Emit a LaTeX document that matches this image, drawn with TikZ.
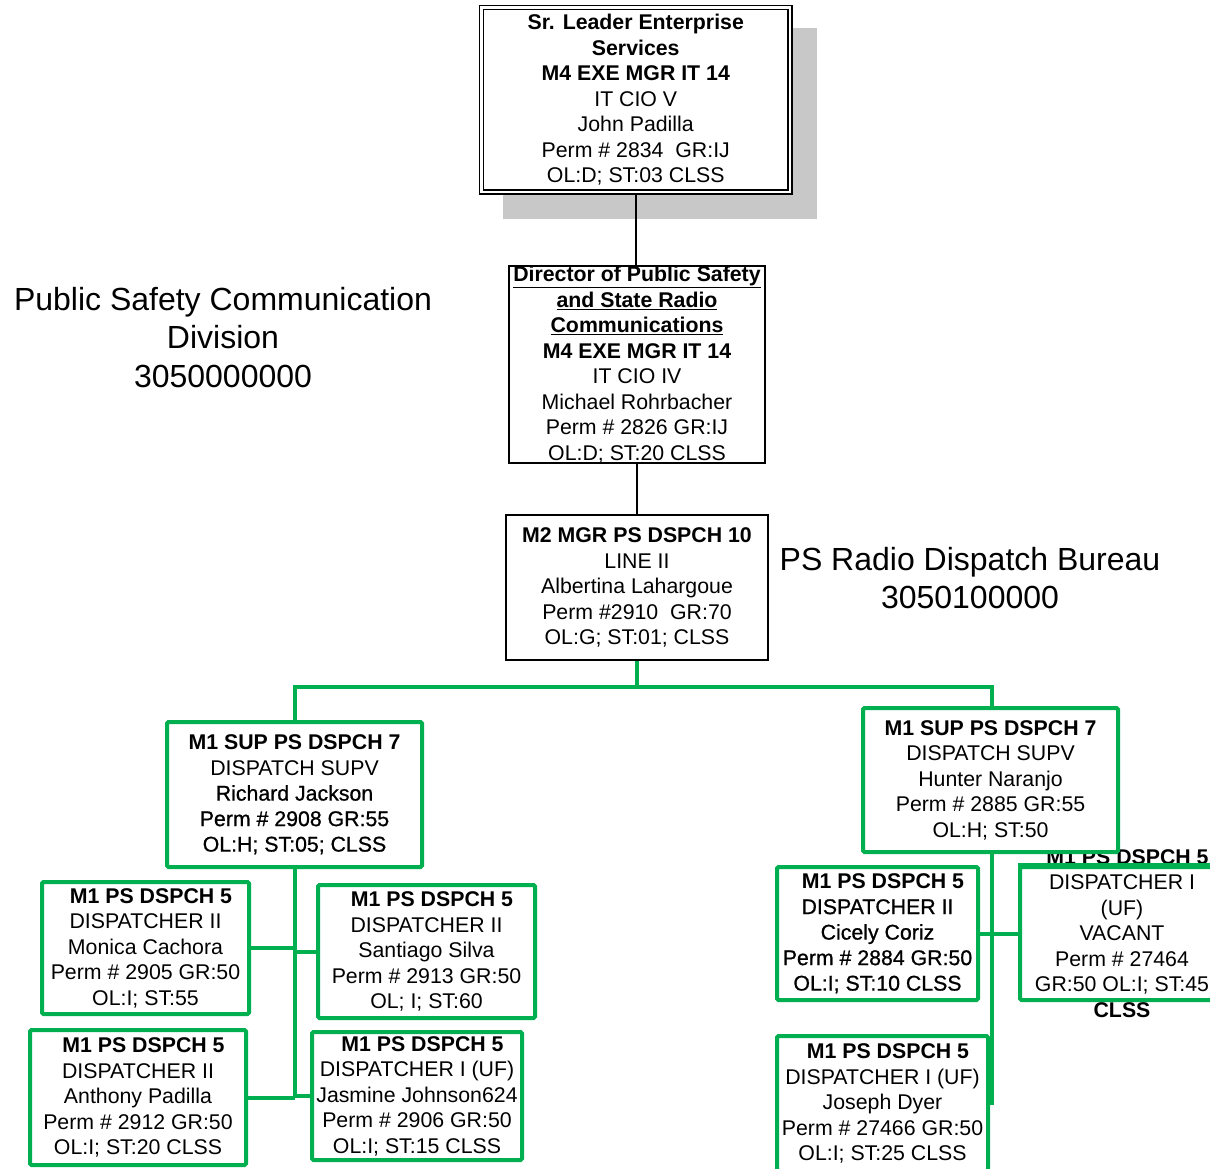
\documentclass[tikz,border=0pt]{standalone}
\usepackage{fontspec}
\setmainfont{Liberation Sans}
\newfontfamily\semib[FakeBold=0.8]{Liberation Sans}
\definecolor{orggreen}{RGB}{0,176,80}
\definecolor{shadowgray}{RGB}{200,200,200}
\begin{document}
\begin{tikzpicture}[x=1pt,y=-1pt,
  boxtext/.style={font=\fontsize{21.3}{25.5}\selectfont, align=center, inner sep=0pt, text=black},
  bbox/.style={boxtext, draw=black, line width=1.8pt, fill=white},
  gbox/.style={boxtext, draw=orggreen, line width=4pt, rounded corners=1.5pt, fill=white},
  gline/.style={draw=orggreen, line width=4pt},
  bline/.style={draw=black, line width=1.8pt},
  titletext/.style={font=\fontsize{32}{38.5}\selectfont, align=center, inner sep=0pt}]
\useasboundingbox (0,0) rectangle (1210,1168);
\clip (0,0) rectangle (1210,1168);
\fill[white] (0,0) rectangle (1210,1168);

% shadow behind the senior leader box
\fill[shadowgray] (503,28) rectangle (817,219);

% senior leader box with a double frame
\node[boxtext, draw=black, fill=white, double, double distance=2.4pt, line width=1.6pt,
      minimum width=308.5pt, minimum height=184.5pt] (sr) at (635.75,99.75)
  {\textbf{Sr. Leader Enterprise}\\\textbf{Services}\\\textbf{M4 EXE MGR IT 14}\\IT CIO V\\John Padilla\\Perm \# 2834\ \ GR:IJ\\OL:D; ST:03 CLSS};

\node[bbox, minimum width=256pt, minimum height=195pt] (dir) at (637,364.5)
  {\textbf{\underline{Director of Public Safety}}\\\textbf{\underline{and State Radio}}\\\textbf{\underline{Communications}}\\\textbf{M4 EXE MGR IT 14}\\IT CIO IV\\Michael Rohrbacher\\Perm \# 2826 GR:IJ\\OL:D; ST:20 CLSS};

\node[bbox, minimum width=262pt, minimum height=145pt] (mgr) at (637,587.5)
  {\textbf{M2 MGR PS DSPCH 10}\\LINE II\\Albertina Lahargoue\\Perm \#2910\ \ GR:70\\OL:G; ST:01; CLSS};

% division and bureau titles
\node[titletext] (division) at (223,337.5) {Public Safety Communication\\Division\\3050000000};
\node[titletext] (bureau) at (970,578) {PS Radio Dispatch Bureau\\3050100000};

% black reporting lines
\draw[bline] (sr.south) -- (sr.south |- dir.north);
\draw[bline] (mgr.north) -- (mgr.north |- dir.south);

% supervisors
\node[gbox, minimum width=255pt, minimum height=145pt] (supL) at (294.5,794.5)
  {\textbf{M1 SUP PS DSPCH 7}\\DISPATCH SUPV\\{\semib Richard Jackson}\\{\semib Perm \# 2908 GR:55}\\{\semib OL:H; ST:05; CLSS}};

% vacant position: its text runs past the frame and is partly covered by the box above
\node[gbox, minimum width=204pt, minimum height=133pt] (vacant) at (1122,933.5) {};
\node[boxtext] (vacanttext) at (vacant.center)
  {\hspace*{11pt}\textbf{M1 PS DSPCH 5}\\DISPATCHER I\\(UF)\\VACANT\\Perm \# 27464\\GR:50 OL:I; ST:45\\\textbf{CLSS}};
\draw[gline] (vacant.north west) -- (vacant.north east);

\node[gbox, minimum width=255pt, minimum height=144pt] (supR) at (990.5,780)
  {\textbf{M1 SUP PS DSPCH 7}\\DISPATCH SUPV\\Hunter Naranjo\\Perm \# 2885 GR:55\\OL:H; ST:50};

% dispatchers, left team
\node[gbox, minimum width=207pt, minimum height=132pt] (monica) at (145.5,948)
  {\hspace*{11pt}\textbf{M1 PS DSPCH 5}\\DISPATCHER II\\Monica Cachora\\Perm \# 2905 GR:50\\OL:I; ST:55};
\node[gbox, minimum width=217pt, minimum height=133pt] (santiago) at (426.5,951.5)
  {\hspace*{11pt}\textbf{M1 PS DSPCH 5}\\DISPATCHER II\\Santiago Silva\\Perm \# 2913 GR:50\\OL; I; ST:60};
\node[gbox, minimum width=216pt, minimum height=135pt] (anthony) at (138,1097.5)
  {\hspace*{11pt}\textbf{M1 PS DSPCH 5}\\DISPATCHER II\\Anthony Padilla\\Perm \# 2912 GR:50\\OL:I; ST:20 CLSS};
\node[gbox, minimum width=210pt, minimum height=128pt] (jasmine) at (417,1096)
  {\hspace*{11pt}\textbf{M1 PS DSPCH 5}\\DISPATCHER I (UF)\\Jasmine Johnson624\\Perm \# 2906 GR:50\\OL:I; ST:15 CLSS};

% dispatchers, right team
\node[gbox, minimum width=201pt, minimum height=133pt] (cicely) at (877.5,933.5)
  {\hspace*{11pt}\textbf{M1 PS DSPCH 5}\\{\semib DISPATCHER II}\\{\semib Cicely Coriz}\\{\semib Perm \# 2884 GR:50}\\{\semib OL:I; ST:10 CLSS}};
\node[gbox, minimum width=211pt, minimum height=135pt] (joseph) at (882.5,1103.5)
  {\hspace*{11pt}\textbf{M1 PS DSPCH 5}\\DISPATCHER I (UF)\\Joseph Dyer\\Perm \# 27466 GR:50\\OL:I; ST:25 CLSS};

% green reporting lines
\coordinate (busL) at (295,687);
\coordinate (busR) at (992,687);
\coordinate (spineL) at (295,1098);
\coordinate (spineR) at (992,1105);
\draw[gline] (mgr.south) -- (mgr.south |- busL);
\draw[gline] (supL.north -| busL) -- (busL) -- (busR) -- (busR |- supR.north);
\draw[gline] (spineL |- supL.south) -- (spineL);
\draw[gline] (monica.east) -- (monica.east -| spineL);
\draw[gline] (santiago.west) -- (santiago.west -| spineL);
\draw[gline] (anthony.east) -- (anthony.east -| spineL);
\draw[gline] (jasmine.west) -- (jasmine.west -| spineL);
\draw[gline] (spineR |- supR.south) -- (spineR);
\draw[gline] (cicely.east) -- (vacant.west);
\end{tikzpicture}
\end{document}
